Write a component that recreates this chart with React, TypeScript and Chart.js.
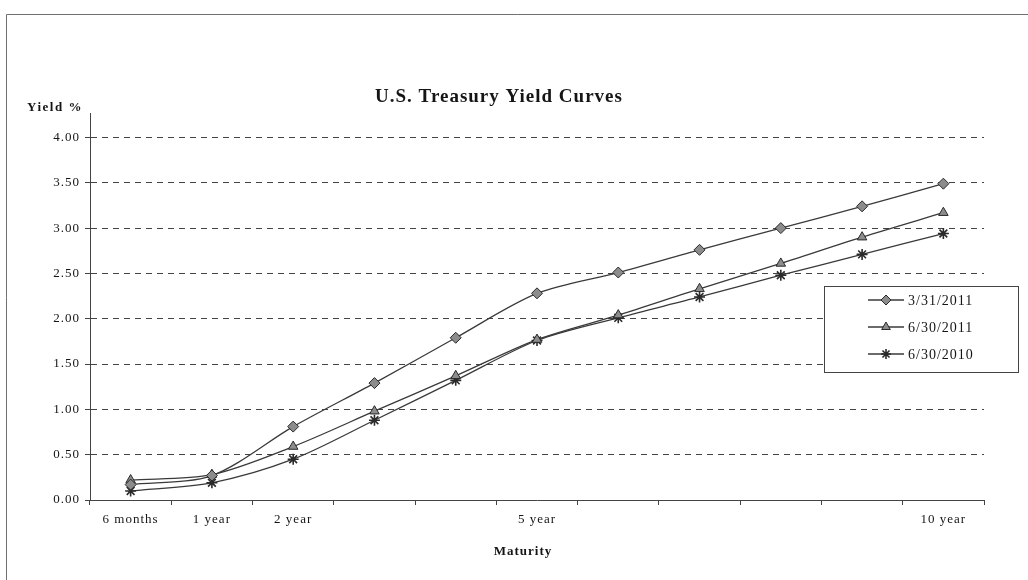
import React, { useEffect, useRef } from 'react';
import { Chart, registerables } from 'chart.js';
import { drawPoint } from 'chart.js/helpers';

Chart.register(...registerables);

const categories = ['6 months', '1 year', '2 year', '3 year', '4 year', '5 year', '6 year', '7 year', '8 year', '9 year', '10 year'];
const shownTickLabels = ['6 months', '1 year', '2 year', '5 year', '10 year'];
const yTickValues = [0, 0.5, 1, 1.5, 2, 2.5, 3, 3.5, 4];
const seriesNames = ['3/31/2011', '6/30/2011', '6/30/2010'];
const seriesMar2011 = [0.17, 0.27, 0.81, 1.29, 1.79, 2.28, 2.51, 2.76, 3.0, 3.24, 3.49];
const seriesJun2011 = [0.22, 0.28, 0.59, 0.98, 1.37, 1.77, 2.04, 2.33, 2.61, 2.9, 3.17];
const seriesJun2010 = [0.1, 0.19, 0.45, 0.88, 1.32, 1.76, 2.01, 2.24, 2.48, 2.71, 2.94];
const pointStyles = ['rectRot', 'triangle', 'star'];
const titleText = 'U.S. Treasury Yield Curves';
const yAxisTitle = 'Yield %';
const xAxisTitle = 'Maturity';

const FONT = '"Liberation Serif", "Times New Roman", serif';
const LINE = '#3a3a3a';
const MARK_FILL = '#8c8c8c';
const MARK_EDGE = '#2a2a2a';
const TEXT = '#151515';

const spacingPlugin = {
  id: 'spacing',
  beforeUpdate(chart: any) {
    chart.ctx.letterSpacing = '1px';
  },
  beforeDraw(chart: any) {
    const ctx = chart.ctx;
    ctx.letterSpacing = '1px';
    ctx.save();
    ctx.fillStyle = '#ffffff';
    ctx.fillRect(0, 0, chart.width, chart.height);
    ctx.strokeStyle = '#707070';
    ctx.lineWidth = 1;
    ctx.beginPath();
    ctx.moveTo(6.5, chart.height);
    ctx.lineTo(6.5, 14.5);
    ctx.lineTo(chart.width, 14.5);
    ctx.stroke();
    ctx.restore();
  },
  afterDraw(chart: any) {
    const ctx = chart.ctx;
    ctx.save();
    ctx.fillStyle = TEXT;
    ctx.textAlign = 'center';
    ctx.textBaseline = 'middle';
    ctx.letterSpacing = '1px';
    ctx.font = `bold 19px ${FONT}`;
    ctx.fillText(titleText, 499, 97);
    ctx.letterSpacing = '1.5px';
    ctx.font = `bold 13px ${FONT}`;
    ctx.fillText(yAxisTitle, 55, 108);
    ctx.letterSpacing = '1px';
    ctx.font = `bold 13px ${FONT}`;
    ctx.fillText(xAxisTitle, 523, 552);

    // legend
    const bx = 824.5, by = 286.5, bw = 194, bh = 86;
    ctx.fillStyle = '#ffffff';
    ctx.fillRect(bx, by, bw, bh);
    ctx.strokeStyle = '#444';
    ctx.lineWidth = 1;
    ctx.strokeRect(bx, by, bw, bh);
    const rows = [300, 327, 354];
    seriesNames.forEach((name, i) => {
      const y = rows[i];
      ctx.strokeStyle = LINE;
      ctx.lineWidth = 1.3;
      ctx.beginPath();
      ctx.moveTo(868, y);
      ctx.lineTo(904, y);
      ctx.stroke();
      ctx.fillStyle = MARK_FILL;
      ctx.strokeStyle = MARK_EDGE;
      ctx.lineWidth = i === 2 ? 1.6 : 1;
      drawPoint(ctx, { pointStyle: pointStyles[i], radius: 5, rotation: 0, borderWidth: ctx.lineWidth } as any, 886, y);
      ctx.fillStyle = TEXT;
      ctx.textAlign = 'left';
      ctx.font = `14px ${FONT}`;
      ctx.fillText(name, 908, y + 1);
    });
    ctx.restore();
  },
};

function makeDataset(label: string, data: number[], style: string) {
  return {
    label,
    data,
    borderColor: LINE,
    borderWidth: 1.3,
    tension: 0.3,
    fill: false,
    pointStyle: style,
    pointRadius: style === 'rectRot' ? 5.5 : 5.5,
    pointBackgroundColor: MARK_FILL,
    pointBorderColor: MARK_EDGE,
    pointBorderWidth: style === 'star' ? 1.6 : 1,
  };
}

export default function App() {
  const ref = useRef<HTMLCanvasElement | null>(null);

  useEffect(() => {
    if (!ref.current) return;
    const chart = new Chart(ref.current, {
      type: 'line',
      data: {
        labels: categories,
        datasets: [
          makeDataset(seriesNames[0], seriesMar2011, pointStyles[0]),
          makeDataset(seriesNames[1], seriesJun2011, pointStyles[1]),
          makeDataset(seriesNames[2], seriesJun2010, pointStyles[2]),
        ],
      },
      options: {
        responsive: false,
        animation: false,
        layout: { padding: { left: 0, top: 113, right: 44, bottom: 0 } },
        plugins: {
          legend: { display: false },
          title: { display: false },
          tooltip: { enabled: false },
        },
        scales: {
          x: {
            type: 'category',
            offset: true,
            grid: { offset: true, drawOnChartArea: false, drawTicks: true, tickLength: 5, color: '#444' },
            border: { display: true, color: '#444', width: 1 },
            ticks: {
              autoSkip: false,
              maxRotation: 0,
              padding: 7,
              color: TEXT,
              font: { family: FONT, size: 13 },
              callback: (_v: any, i: number) => (shownTickLabels.includes(categories[i]) ? categories[i] : ''),
            },
            afterFit: (s: any) => {
              s.height = 80;
            },
          },
          y: {
            min: 0,
            max: 4.27,
            afterBuildTicks: (axis: any) => {
              axis.ticks = yTickValues.map((v) => ({ value: v }));
            },
            ticks: {
              padding: 5,
              color: TEXT,
              font: { family: FONT, size: 13 },
              callback: (v: any) => Number(v).toFixed(2),
            },
            grid: { color: '#444', lineWidth: 1, tickLength: 5, drawTicks: true },
            border: { display: true, color: '#444', width: 1, dash: [6, 5] },
            afterFit: (s: any) => {
              s.width = 90;
            },
          },
        },
      },
      plugins: [spacingPlugin],
    } as any);
    return () => chart.destroy();
  }, []);

  return (
    <div style={{ position: 'fixed', left: 0, top: 0, width: 1028, height: 580, background: '#fff' }}>
      <canvas ref={ref} width={1028} height={580} style={{ display: 'block' }} />
    </div>
  );
}
